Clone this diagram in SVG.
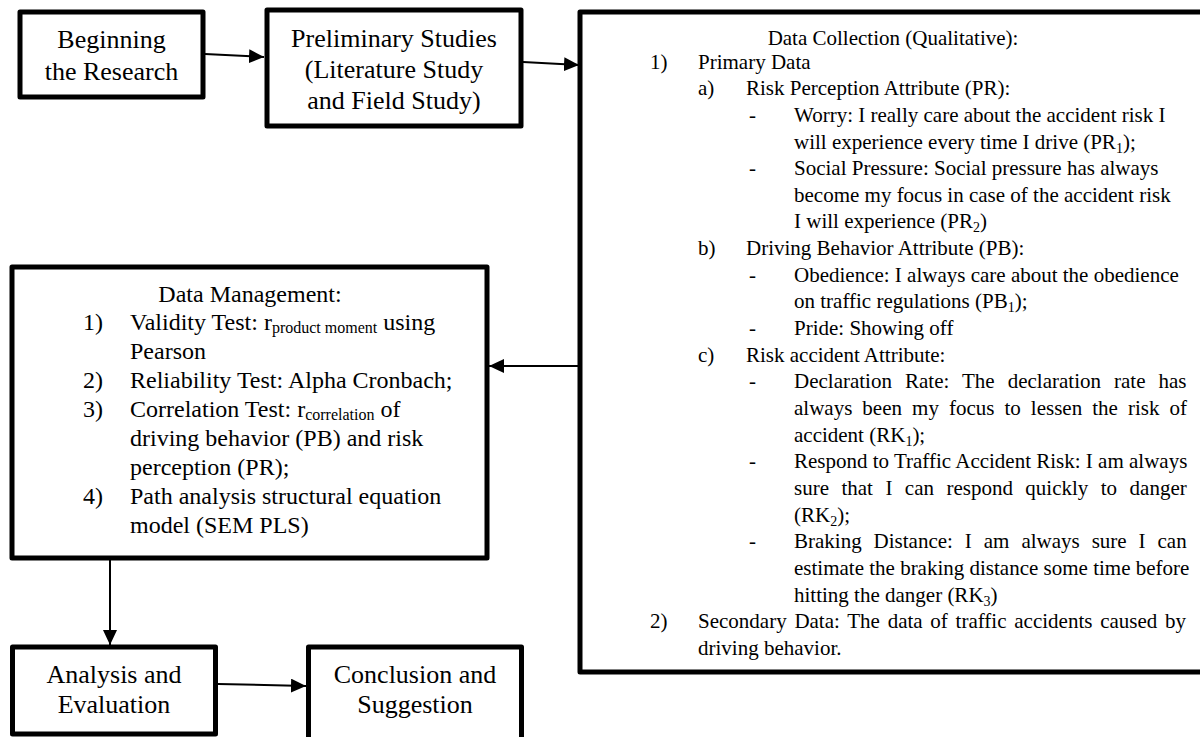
<svg xmlns="http://www.w3.org/2000/svg" width="1200" height="737" viewBox="0 0 1200 737">
<style>
.box{fill:#fff;stroke:#000;stroke-width:5;stroke-linejoin:round}
.t{font-family:"Liberation Serif","Times New Roman",serif;fill:#000}
.lg{font-size:26px;text-anchor:middle}
.dm{font-size:24px}
.bg{font-size:21px}
.conn{fill:none;stroke:#000;stroke-width:2}
</style>
<defs>
<marker id="arr" markerUnits="userSpaceOnUse" markerWidth="16" markerHeight="16" refX="15" refY="7" orient="auto">
<path d="M0,0 L15,7 L0,14 z" fill="#000"/>
</marker>
</defs>
<rect width="1200" height="737" fill="#fff"/>

<g id="connectors">
<path class="conn" d="M205,54 L264,57" marker-end="url(#arr)"/>
<path class="conn" d="M523,62 L579,65" marker-end="url(#arr)"/>
<path class="conn" d="M578,366 L489,366" marker-end="url(#arr)"/>
<path class="conn" d="M110,560 L110,645" marker-end="url(#arr)"/>
<path class="conn" d="M218,684 L306,686" marker-end="url(#arr)"/>
</g>

<g id="n-begin">
<rect class="box" x="20" y="12" width="183" height="85"/>
<text class="t lg" x="111.5" y="48">Beginning</text>
<text class="t lg" x="111.5" y="80">the Research</text>
</g>

<g id="n-prelim">
<rect class="box" x="267" y="10" width="254" height="116"/>
<text class="t lg" x="394" y="47">Preliminary Studies</text>
<text class="t lg" x="394" y="78">(Literature Study</text>
<text class="t lg" x="394" y="108.5">and Field Study)</text>
</g>

<g id="n-collect">
<rect class="box" x="580" y="12" width="626" height="660"/>
<text class="t bg" x="893" y="45" text-anchor="middle">Data Collection (Qualitative):</text>
<text class="t bg" x="650" y="68.5">1)</text><text class="t bg" x="698" y="68.5">Primary Data</text>
<text class="t bg" x="698" y="95.2">a)</text><text class="t bg" x="746" y="95.2">Risk Perception Attribute (PR):</text>
<text class="t bg" x="749" y="121.8">-</text><text class="t bg" x="794" y="121.8">Worry: I really care about the accident risk I</text>
<text class="t bg" x="794" y="148.5">will experience every time I drive (PR<tspan font-size="14" dy="4">1</tspan><tspan dy="-4">);</tspan></text>
<text class="t bg" x="749" y="175.1">-</text><text class="t bg" x="794" y="175.1">Social Pressure: Social pressure has always</text>
<text class="t bg" x="794" y="201.8">become my focus in case of the accident risk</text>
<text class="t bg" x="794" y="228.4">I will experience (PR<tspan font-size="14" dy="4">2</tspan><tspan dy="-4">)</tspan></text>
<text class="t bg" x="698" y="255.1">b)</text><text class="t bg" x="746" y="255.1">Driving Behavior Attribute (PB):</text>
<text class="t bg" x="749" y="281.7">-</text><text class="t bg" x="794" y="281.7">Obedience: I always care about the obedience</text>
<text class="t bg" x="794" y="308.4">on traffic regulations (PB<tspan font-size="14" dy="4">1</tspan><tspan dy="-4">);</tspan></text>
<text class="t bg" x="749" y="335">-</text><text class="t bg" x="794" y="335">Pride: Showing off</text>
<text class="t bg" x="698" y="361.7">c)</text><text class="t bg" x="746" y="361.7">Risk accident Attribute:</text>
<text class="t bg" x="749" y="388.3">-</text><text class="t bg" x="794" y="388.3" word-spacing="7.8">Declaration Rate: The declaration rate has</text>
<text class="t bg" x="794" y="415" word-spacing="4.8">always been my focus to lessen the risk of</text>
<text class="t bg" x="794" y="441.6">accident (RK<tspan font-size="14" dy="4">1</tspan><tspan dy="-4">);</tspan></text>
<text class="t bg" x="749" y="468.3">-</text><text class="t bg" x="794" y="468.3">Respond to Traffic Accident Risk: I am always</text>
<text class="t bg" x="794" y="494.9" word-spacing="7.2">sure that I can respond quickly to danger</text>
<text class="t bg" x="794" y="521.6">(RK<tspan font-size="14" dy="4">2</tspan><tspan dy="-4">);</tspan></text>
<text class="t bg" x="749" y="548.2">-</text><text class="t bg" x="794" y="548.2" word-spacing="6.7">Braking Distance: I am always sure I can</text>
<text class="t bg" x="794" y="574.9">estimate the braking distance some time before</text>
<text class="t bg" x="794" y="601.5">hitting the danger (RK<tspan font-size="14" dy="4">3</tspan><tspan dy="-4">)</tspan></text>
<text class="t bg" x="650" y="628.2">2)</text><text class="t bg" x="698" y="628.2" word-spacing="2.5">Secondary Data: The data of traffic accidents caused by</text>
<text class="t bg" x="698" y="654.8">driving behavior.</text>
</g>

<g id="n-manage">
<rect class="box" x="12" y="267" width="475" height="291"/>
<text class="t dm" x="250" y="301.5" text-anchor="middle">Data Management:</text>
<text class="t dm" x="83" y="330.4">1)</text><text class="t dm" x="130" y="330.4">Validity Test: r<tspan font-size="16" dy="3">product moment</tspan><tspan dy="-3"> using</tspan></text>
<text class="t dm" x="130" y="359.3">Pearson</text>
<text class="t dm" x="83" y="388.2">2)</text><text class="t dm" x="130" y="388.2">Reliability Test: Alpha Cronbach;</text>
<text class="t dm" x="83" y="417.1">3)</text><text class="t dm" x="130" y="417.1">Correlation Test: r<tspan font-size="16" dy="3">correlation</tspan><tspan dy="-3"> of</tspan></text>
<text class="t dm" x="130" y="446">driving behavior (PB) and risk</text>
<text class="t dm" x="130" y="474.9">perception (PR);</text>
<text class="t dm" x="83" y="503.8">4)</text><text class="t dm" x="130" y="503.8">Path analysis structural equation</text>
<text class="t dm" x="130" y="532.7">model (SEM PLS)</text>
</g>

<g id="n-analysis">
<rect class="box" x="12.5" y="647" width="203" height="87"/>
<text class="t lg" x="114" y="683">Analysis and</text>
<text class="t lg" x="114" y="713">Evaluation</text>
</g>

<g id="n-conclusion">
<rect class="box" x="308.5" y="647" width="213" height="110"/>
<text class="t lg" x="415" y="683">Conclusion and</text>
<text class="t lg" x="415" y="713">Suggestion</text>
</g>
</svg>
